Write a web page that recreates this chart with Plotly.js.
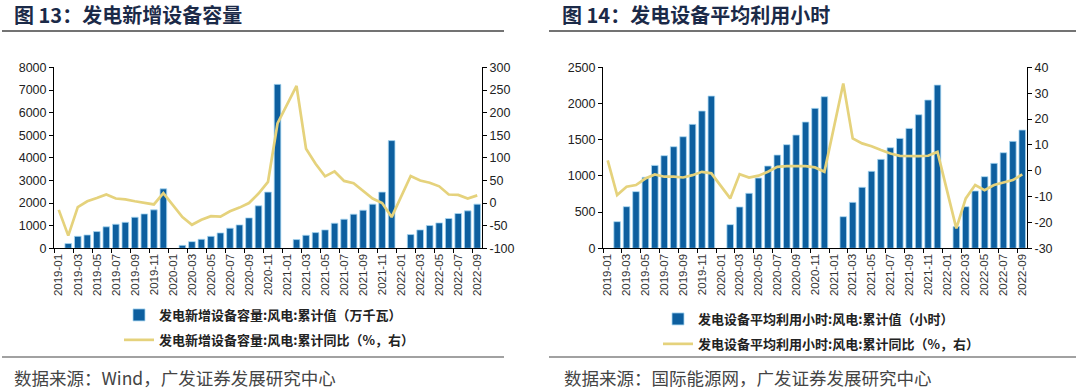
<!DOCTYPE html>
<html>
<head>
<meta charset="utf-8">
<script src="https://cdn.plot.ly/plotly-3.0.1.min.js"></script>
<style>
  html, body { margin: 0; padding: 0; background: #ffffff; }
  #chart { width: 1080px; height: 392px; }
</style>
</head>
<body>
<div id="chart"></div>
<script>
const months = [
  '2019-01','2019-02','2019-03','2019-04','2019-05','2019-06','2019-07','2019-08','2019-09','2019-10','2019-11','2019-12',
  '2020-01','2020-02','2020-03','2020-04','2020-05','2020-06','2020-07','2020-08','2020-09','2020-10','2020-11','2020-12',
  '2021-01','2021-02','2021-03','2021-04','2021-05','2021-06','2021-07','2021-08','2021-09','2021-10','2021-11','2021-12',
  '2022-01','2022-02','2022-03','2022-04','2022-05','2022-06','2022-07','2022-08','2022-09'
];

// 图13: 发电新增设备容量:风电:累计值（万千瓦）
const capacityCum = [
  null, 210, 530, 590, 740, 950, 1065, 1150, 1375, 1520, 1700, 2630,
  null, 130, 295, 400, 530, 680, 890, 1035, 1345, 1880, 2485, 7250,
  null, 385, 577, 695, 814, 1110, 1287, 1510, 1686, 1953, 2485, 4763,
  null, 607, 814, 1006, 1124, 1317, 1538, 1657, 1953
];
// 发电新增设备容量:风电:累计同比（%，右）
const capacityYoY = [
  -15, -72, -9, 4, 11, 19, 10, 8, 4, 0, -3, 22,
  null, -31, -48, -37, -29, -30, -18, -10, 0, 21, 47, 176,
  null, 259, 120, 87, 59, 70, 49, 44, 28, 10, 0, -31,
  null, 60, 50, 45, 37, 19, 18, 10, 17
];

// 图14: 发电设备平均利用小时:风电:累计值（小时）
const hoursCum = [
  null, 368, 575, 783, 981, 1146, 1280, 1404, 1542, 1713, 1897, 2104,
  null, 327, 571, 760, 971, 1137, 1289, 1432, 1565, 1745, 1934, 2095,
  null, 437, 635, 843, 1064, 1229, 1390, 1519, 1657, 1846, 2049, 2256,
  null, 300, 575, 792, 990, 1174, 1321, 1478, 1634
];
// 发电设备平均利用小时:风电:累计同比（%，右）
const hoursYoY = [
  4, -9.4, -6.2, -5.5, -3, -1.4, -2.3, -2.3, -2.6, -1.7, -0.4, -1,
  null, -10.7, -1.3, -2.6, -1.9, -0.4, 1.5, 1.8, 1.8, 1.8, 1.3, -0.4,
  null, 33.8, 12.5, 10.6, 9.5, 8, 6.7, 5.8, 5.7, 5.7, 5.8, 7.3,
  null, -22.3, -10.7, -5.5, -7.5, -5.5, -4.6, -3.6, -1.4
];

const capLeftTicks = [0, 1000, 2000, 3000, 4000, 5000, 6000, 7000, 8000];
const capRightTicks = [-100, -50, 0, 50, 100, 150, 200, 250, 300];
const hrsLeftTicks = [0, 500, 1000, 1500, 2000, 2500];
const hrsRightTicks = [-30, -20, -10, 0, 10, 20, 30, 40];

const names = {
  capBar: '发电新增设备容量:风电:累计值（万千瓦）',
  capLine: '发电新增设备容量:风电:累计同比（%，右）',
  hrsBar: '发电设备平均利用小时:风电:累计值（小时）',
  hrsLine: '发电设备平均利用小时:风电:累计同比（%，右）'
};

const BAR = '#0d5f9f';
const BAR_EDGE = '#a9d8f2';
const LINE = '#e5d27c';
const LAT = 'Liberation Sans, Arial, sans-serif';
const CJK = 'Noto Sans CJK SC, sans-serif';

const fmt = v => String(v); // plain hyphen minus

const traces = [
  { type: 'bar', x: months, y: capacityCum, name: names.capBar, xaxis: 'x', yaxis: 'y', legendgroup: 'a',
    marker: { color: BAR, line: { color: BAR_EDGE, width: 0.8 } }, legend: 'legend' },
  { type: 'scatter', mode: 'lines', x: months, y: capacityYoY, name: names.capLine, xaxis: 'x', yaxis: 'y2', legendgroup: 'b',
    connectgaps: true, line: { color: LINE, width: 2.7 }, legend: 'legend' },
  { type: 'bar', x: months, y: hoursCum, name: names.hrsBar, xaxis: 'x2', yaxis: 'y3', legendgroup: 'c',
    marker: { color: BAR, line: { color: BAR_EDGE, width: 0.8 } }, legend: 'legend2' },
  { type: 'scatter', mode: 'lines', x: months, y: hoursYoY, name: names.hrsLine, xaxis: 'x2', yaxis: 'y4', legendgroup: 'd',
    connectgaps: true, line: { color: LINE, width: 2.7 }, legend: 'legend2' }
];

const W = 1080, H = 392;
const px = v => v / W;
const py = v => 1 - v / H;

const xCommon = {
  type: 'category', tickangle: -90, dtick: 2, tick0: 0, tickson: 'boundaries',
  showline: true, linecolor: '#000', linewidth: 1, ticks: 'outside', ticklen: 4, tickcolor: '#000',
  showgrid: false, zeroline: false, range: [-0.5, 44.5], fixedrange: true,
  tickfont: { family: LAT, size: 11.5, color: '#333' }
};
const yCommon = {
  showline: true, linecolor: '#000', linewidth: 1, ticks: 'outside', ticklen: 4, tickcolor: '#000',
  showgrid: false, zeroline: false, fixedrange: true, tickmode: 'array',
  tickfont: { family: LAT, size: 12.5, color: '#222' }
};
const yDom = [py(248.3), py(67.4)];

const legendCommon = {
  xanchor: 'left', yanchor: 'top', orientation: 'v', traceorder: 'grouped',
  bgcolor: 'rgba(0,0,0,0)', itemwidth: 30, tracegroupgap: 5,
  font: { family: CJK, size: 13, color: '#222', weight: 'bold' }
};

const layout = {
  width: W, height: H,
  margin: { l: 0, r: 0, t: 0, b: 0 },
  paper_bgcolor: '#fff', plot_bgcolor: '#fff',
  bargap: 0.3,
  showlegend: true,
  xaxis: Object.assign({}, xCommon, { domain: [px(54), px(482)], anchor: 'y' }),
  yaxis: Object.assign({}, yCommon, { domain: yDom, anchor: 'x', range: [0, 8000],
    tickvals: capLeftTicks, ticktext: capLeftTicks.map(fmt) }),
  yaxis2: Object.assign({}, yCommon, { overlaying: 'y', side: 'right', anchor: 'x', range: [-100, 300],
    tickvals: capRightTicks, ticktext: capRightTicks.map(fmt) }),
  xaxis2: Object.assign({}, xCommon, { domain: [px(603), px(1027)], anchor: 'y3' }),
  yaxis3: Object.assign({}, yCommon, { domain: yDom, anchor: 'x2', range: [0, 2500],
    tickvals: hrsLeftTicks, ticktext: hrsLeftTicks.map(fmt) }),
  yaxis4: Object.assign({}, yCommon, { overlaying: 'y3', side: 'right', anchor: 'x2', range: [-30, 40],
    tickvals: hrsRightTicks, ticktext: hrsRightTicks.map(fmt) }),
  legend: Object.assign({}, legendCommon, { x: px(119), y: py(300) }),
  legend2: Object.assign({}, legendCommon, { x: px(658), y: py(304) }),
  shapes: [
    { type: 'line', xref: 'paper', yref: 'paper', x0: px(2), x1: px(504), y0: py(31), y1: py(31), line: { color: '#444', width: 1.4 } },
    { type: 'line', xref: 'paper', yref: 'paper', x0: px(549), x1: px(1076), y0: py(31), y1: py(31), line: { color: '#444', width: 1.4 } },
    { type: 'line', xref: 'paper', yref: 'paper', x0: px(2), x1: px(504), y0: py(357), y1: py(357), line: { color: '#444', width: 1.2 } },
    { type: 'line', xref: 'paper', yref: 'paper', x0: px(549), x1: px(1076), y0: py(357), y1: py(357), line: { color: '#444', width: 1.2 } }
  ],
  annotations: [
    { text: '图 13：发电新增设备容量', xref: 'paper', yref: 'paper', x: px(12), y: py(15), xanchor: 'left', yanchor: 'middle',
      showarrow: false, font: { family: CJK, size: 20, color: '#1b2a48', weight: 'bold' } },
    { text: '图 14：发电设备平均利用小时', xref: 'paper', yref: 'paper', x: px(560), y: py(15), xanchor: 'left', yanchor: 'middle',
      showarrow: false, font: { family: CJK, size: 20, color: '#1b2a48', weight: 'bold' } },
    { text: '数据来源：Wind，广发证券发展研究中心', xref: 'paper', yref: 'paper', x: px(12), y: py(377), xanchor: 'left', yanchor: 'middle',
      showarrow: false, font: { family: CJK, size: 17.5, color: '#444' } },
    { text: '数据来源：国际能源网，广发证券发展研究中心', xref: 'paper', yref: 'paper', x: px(562), y: py(377), xanchor: 'left', yanchor: 'middle',
      showarrow: false, font: { family: CJK, size: 17.5, color: '#444' } }
  ]
};

Plotly.newPlot('chart', traces, layout, { displayModeBar: false, staticPlot: true });
</script>
</body>
</html>
